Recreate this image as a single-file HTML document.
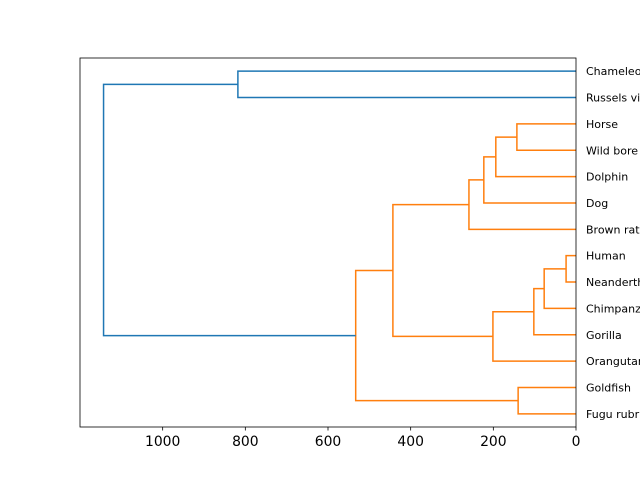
<!DOCTYPE html>
<html><head><meta charset="utf-8"><style>body{margin:0;background:#fff}svg{display:block}</style></head>
<body>
<svg id="c" width="640" height="480" xmlns="http://www.w3.org/2000/svg" font-family="DejaVu Sans, Liberation Sans, sans-serif">
<rect x="0" y="0" width="640" height="480" fill="#fff"/>
</svg>
<script>
const leafNames = ["Fugu rubripes","Goldfish","Orangutan","Gorilla","Chimpanzee","Neanderthal","Human","Brown rat","Dog","Dolphin","Wild bore","Horse","Russels viper","Chameleon"];
const mergeLeft = [5,4,3,2,10,9,8,7,17,0,23,12,24];
const mergeRight = [6,14,15,16,11,18,19,20,21,1,22,13,25];
const mergeHeight = [24,77,102,201,143,194,223,259,443,140,533,818,1143];
const mergeColor = ["o","o","o","o","o","o","o","o","o","o","o","b","b"];
const xTicks = [1000,800,600,400,200,0];

const svg = document.getElementById('c');
const NS = 'http://www.w3.org/2000/svg';
const L=80,R=576,T=58,B=427, XMAX=1200, YMAX=leafNames.length*10;
const xs = v => R - v/XMAX*(R-L);
const ys = v => B - v/YMAX*(B-T);
const colors = {o:'#ff7f0e', b:'#1f77b4'};
function mk(tag, attrs){const e=document.createElementNS(NS,tag);for(const k in attrs)e.setAttribute(k,attrs[k]);svg.appendChild(e);return e;}

const ny=[], nh=[];
leafNames.forEach((n,i)=>{ny[i]=5+10*i; nh[i]=0;});
mergeHeight.forEach((h,j)=>{
  const a=mergeLeft[j], b=mergeRight[j], id=leafNames.length+j;
  ny[id]=(ny[a]+ny[b])/2; nh[id]=h;
  const p=mk('path',{d:`M${xs(nh[a])},${ys(ny[a])}H${xs(h)}V${ys(ny[b])}H${xs(nh[b])}`,fill:'none',stroke:colors[mergeColor[j]],'stroke-width':1.5});
  
  
});

const frame=mk('rect',{x:L,y:T,width:R-L,height:B-T,fill:'none',stroke:'#000','stroke-width':0.8});



leafNames.forEach((n,i)=>{
  const t=mk('text',{x:R+10,y:ys(ny[i])+4,'font-size':11,fill:'#000'});
  t.textContent=n;
  
  
});

xTicks.forEach(v=>{
  const tk=mk('line',{x1:xs(v),x2:xs(v),y1:B,y2:B+3.5,stroke:'#000','stroke-width':0.8});
  
  
  const t=mk('text',{x:xs(v),y:B+19,'font-size':13.9,'text-anchor':'middle',fill:'#000'});
  t.textContent=v;
  
  
});
</script>
</body></html>
